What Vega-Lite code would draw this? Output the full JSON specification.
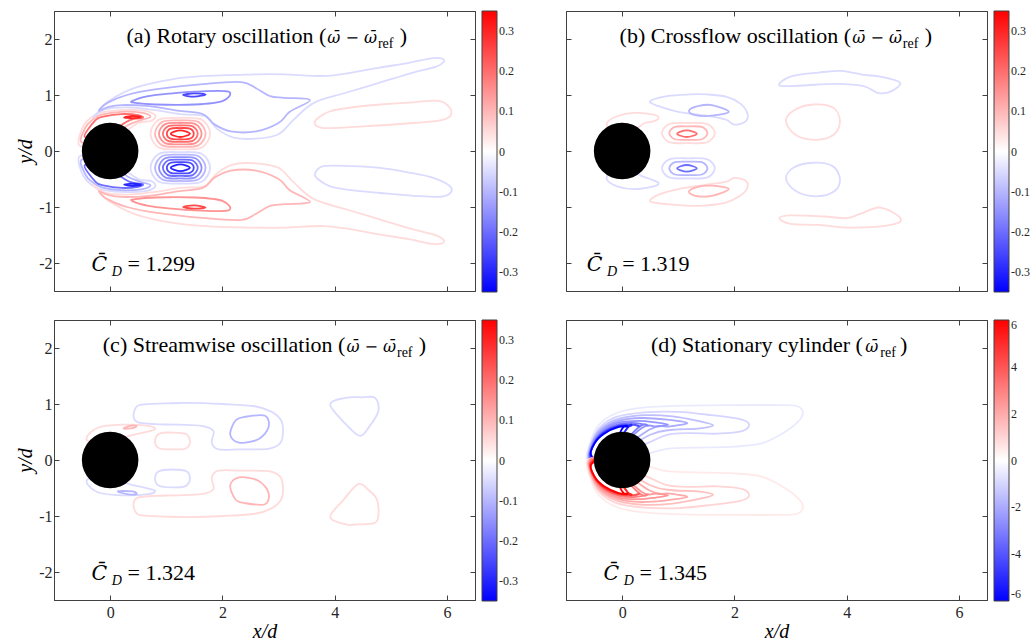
{
"$schema": "https://vega.github.io/schema/vega-lite/v6.json",
"padding": {"left": 15, "top": 10, "right": 0, "bottom": 0},
"config": {
  "font": "Liberation Serif",
  "view": {"stroke": "#404040", "strokeWidth": 1},
  "axis": {"grid": false, "domainColor": "#404040", "tickColor": "#404040", "tickSize": -5, "labelFont": "Liberation Serif", "labelFontSize": 16, "labelColor": "#262626", "labelPadding": 7, "labelOverlap": false, "labelFlush": false, "titleFont": "Liberation Serif", "titleFontSize": 20, "titleFontStyle": "italic", "titleFontWeight": "normal", "titleColor": "#000", "titlePadding": 3},
  "axisX": {"labelPadding": 9, "titlePadding": 1},
  "legend": {"gradientLength": 281, "gradientThickness": 15, "labelFont": "Liberation Serif", "labelFontSize": 12, "labelColor": "#262626", "labelOffset": 5, "gradientStrokeColor": "#404040", "gradientStrokeWidth": 1, "offset": 6, "labelOverlap": false},
  "style": {
    "tm": {"font": "Liberation Serif", "fontSize": 22, "align": "right", "baseline": "alphabetic", "fill": "#000"},
    "tl": {"font": "Liberation Serif", "fontSize": 22, "align": "left", "baseline": "alphabetic", "fill": "#000"},
    "tw": {"font": "DejaVu Serif", "fontSize": 16, "fontStyle": "italic", "align": "left", "baseline": "alphabetic", "fill": "#000"},
    "tc": {"font": "DejaVu Serif", "fontSize": 20.5, "fontStyle": "italic", "align": "left", "baseline": "alphabetic", "fill": "#000"},
    "ts": {"font": "Liberation Serif", "fontSize": 14, "align": "left", "baseline": "alphabetic", "dy": 5, "fill": "#000"},
    "td": {"font": "Liberation Serif", "fontSize": 14, "fontStyle": "italic", "align": "left", "baseline": "alphabetic", "dy": 5, "fill": "#000"}
  }
},
"datasets": {
"L": [
{"p":"a","k":"m","t":"(a) Rotary oscillation (","x":3.85,"y":1.92},
{"p":"a","k":"w","t":"\u03c9\u0304 \u2212 \u03c9\u0304","x":3.87,"y":1.92},
{"p":"a","k":"s","t":"ref","x":4.77,"y":1.92},
{"p":"a","k":"l","t":")","x":5.16,"y":1.92},
{"p":"a","k":"c","t":"C\u0304","x":-0.33,"y":-2.15},
{"p":"a","k":"d","t":"D","x":0.03,"y":-2.15},
{"p":"a","k":"l","t":"= 1.299","x":0.31,"y":-2.15},
{"p":"b","k":"m","t":"(b) Crossflow oscillation (","x":4.08,"y":1.92},
{"p":"b","k":"w","t":"\u03c9\u0304 \u2212 \u03c9\u0304","x":4.1,"y":1.92},
{"p":"b","k":"s","t":"ref","x":5.0,"y":1.92},
{"p":"b","k":"l","t":")","x":5.39,"y":1.92},
{"p":"b","k":"c","t":"C\u0304","x":-0.63,"y":-2.15},
{"p":"b","k":"d","t":"D","x":-0.27,"y":-2.15},
{"p":"b","k":"l","t":"= 1.319","x":0.0,"y":-2.15},
{"p":"c","k":"m","t":"(c) Streamwise oscillation (","x":4.19,"y":1.92},
{"p":"c","k":"w","t":"\u03c9\u0304 \u2212 \u03c9\u0304","x":4.21,"y":1.92},
{"p":"c","k":"s","t":"ref","x":5.11,"y":1.92},
{"p":"c","k":"l","t":")","x":5.5,"y":1.92},
{"p":"c","k":"c","t":"C\u0304","x":-0.33,"y":-2.15},
{"p":"c","k":"d","t":"D","x":0.03,"y":-2.15},
{"p":"c","k":"l","t":"= 1.324","x":0.31,"y":-2.15},
{"p":"d","k":"m","t":"(d) Stationary cylinder (","x":4.29,"y":1.92},
{"p":"d","k":"w","t":"\u03c9\u0304","x":4.33,"y":1.92},
{"p":"d","k":"s","t":"ref","x":4.6,"y":1.92},
{"p":"d","k":"l","t":")","x":4.95,"y":1.92},
{"p":"d","k":"c","t":"C\u0304","x":-0.33,"y":-2.15},
{"p":"d","k":"d","t":"D","x":0.03,"y":-2.15},
{"p":"d","k":"l","t":"= 1.345","x":0.31,"y":-2.15}
],
"A": [
{"c":1,"v":0.05,"i":0,"x":-0.55,"y":0.1},{"c":1,"v":0.05,"i":1,"x":-0.5,"y":0.4},{"c":1,"v":0.05,"i":2,"x":-0.36,"y":0.58},{"c":1,"v":0.05,"i":3,"x":-0.18,"y":0.68},{"c":1,"v":0.05,"i":4,"x":0.2,"y":0.73},{"c":1,"v":0.05,"i":5,"x":0.6,"y":0.72},{"c":1,"v":0.05,"i":6,"x":0.8,"y":0.64},{"c":1,"v":0.05,"i":7,"x":0.74,"y":0.54},{"c":1,"v":0.05,"i":8,"x":0.5,"y":0.5},{"c":1,"v":0.05,"i":9,"x":0.2,"y":0.3},{"c":1,"v":0.05,"i":10,"x":-0.2,"y":0.1},
{"c":2,"v":0.1,"i":0,"x":-0.5,"y":0.15},{"c":2,"v":0.1,"i":1,"x":-0.44,"y":0.42},{"c":2,"v":0.1,"i":2,"x":-0.31,"y":0.56},{"c":2,"v":0.1,"i":3,"x":-0.15,"y":0.65},{"c":2,"v":0.1,"i":4,"x":0.2,"y":0.7},{"c":2,"v":0.1,"i":5,"x":0.58,"y":0.68},{"c":2,"v":0.1,"i":6,"x":0.72,"y":0.61},{"c":2,"v":0.1,"i":7,"x":0.55,"y":0.55},{"c":2,"v":0.1,"i":8,"x":0.3,"y":0.45},{"c":2,"v":0.1,"i":9,"x":0,"y":0.2},
{"c":3,"v":0.2,"i":0,"x":-0.45,"y":0.25},{"c":3,"v":0.2,"i":1,"x":-0.26,"y":0.55},{"c":3,"v":0.2,"i":2,"x":-0.1,"y":0.62},{"c":3,"v":0.2,"i":3,"x":0.2,"y":0.66},{"c":3,"v":0.2,"i":4,"x":0.5,"y":0.64},{"c":3,"v":0.2,"i":5,"x":0.58,"y":0.59},{"c":3,"v":0.2,"i":6,"x":0.35,"y":0.55},{"c":3,"v":0.2,"i":7,"x":0,"y":0.35},
{"c":4,"v":0.3,"i":0,"x":0.25,"y":0.6},{"c":4,"v":0.3,"i":1,"x":0.4,"y":0.625},{"c":4,"v":0.3,"i":2,"x":0.55,"y":0.605},{"c":4,"v":0.3,"i":3,"x":0.4,"y":0.585},
{"c":5,"v":0.05,"i":0,"x":1.78,"y":0.31},{"c":5,"v":0.05,"i":1,"x":1.63,"y":0.56},{"c":5,"v":0.05,"i":2,"x":1.25,"y":0.59},{"c":5,"v":0.05,"i":3,"x":0.87,"y":0.56},{"c":5,"v":0.05,"i":4,"x":0.72,"y":0.31},{"c":5,"v":0.05,"i":5,"x":0.87,"y":0.06},{"c":5,"v":0.05,"i":6,"x":1.25,"y":0.03},{"c":5,"v":0.05,"i":7,"x":1.63,"y":0.06},
{"c":6,"v":0.1,"i":0,"x":1.7,"y":0.31},{"c":6,"v":0.1,"i":1,"x":1.57,"y":0.52},{"c":6,"v":0.1,"i":2,"x":1.25,"y":0.545},{"c":6,"v":0.1,"i":3,"x":0.93,"y":0.52},{"c":6,"v":0.1,"i":4,"x":0.8,"y":0.31},{"c":6,"v":0.1,"i":5,"x":0.93,"y":0.1},{"c":6,"v":0.1,"i":6,"x":1.25,"y":0.075},{"c":6,"v":0.1,"i":7,"x":1.57,"y":0.1},
{"c":7,"v":0.15,"i":0,"x":1.63,"y":0.31},{"c":7,"v":0.15,"i":1,"x":1.52,"y":0.48},{"c":7,"v":0.15,"i":2,"x":1.25,"y":0.5},{"c":7,"v":0.15,"i":3,"x":0.98,"y":0.48},{"c":7,"v":0.15,"i":4,"x":0.87,"y":0.31},{"c":7,"v":0.15,"i":5,"x":0.98,"y":0.14},{"c":7,"v":0.15,"i":6,"x":1.25,"y":0.12},{"c":7,"v":0.15,"i":7,"x":1.52,"y":0.14},
{"c":8,"v":0.2,"i":0,"x":1.56,"y":0.31},{"c":8,"v":0.2,"i":1,"x":1.47,"y":0.44},{"c":8,"v":0.2,"i":2,"x":1.25,"y":0.455},{"c":8,"v":0.2,"i":3,"x":1.03,"y":0.44},{"c":8,"v":0.2,"i":4,"x":0.94,"y":0.31},{"c":8,"v":0.2,"i":5,"x":1.03,"y":0.18},{"c":8,"v":0.2,"i":6,"x":1.25,"y":0.165},{"c":8,"v":0.2,"i":7,"x":1.47,"y":0.18},
{"c":9,"v":0.25,"i":0,"x":1.49,"y":0.31},{"c":9,"v":0.25,"i":1,"x":1.42,"y":0.4},{"c":9,"v":0.25,"i":2,"x":1.25,"y":0.41},{"c":9,"v":0.25,"i":3,"x":1.08,"y":0.4},{"c":9,"v":0.25,"i":4,"x":1.01,"y":0.31},{"c":9,"v":0.25,"i":5,"x":1.08,"y":0.22},{"c":9,"v":0.25,"i":6,"x":1.25,"y":0.21},{"c":9,"v":0.25,"i":7,"x":1.42,"y":0.22},
{"c":10,"v":0.3,"i":0,"x":1.42,"y":0.31},{"c":10,"v":0.3,"i":1,"x":1.25,"y":0.37},{"c":10,"v":0.3,"i":2,"x":1.08,"y":0.31},{"c":10,"v":0.3,"i":3,"x":1.25,"y":0.25},
{"c":11,"v":-0.05,"i":0,"x":-0.3,"y":0.6},{"c":11,"v":-0.05,"i":1,"x":-0.21,"y":0.7},{"c":11,"v":-0.05,"i":2,"x":-0.03,"y":0.89},{"c":11,"v":-0.05,"i":3,"x":0.45,"y":1.13},{"c":11,"v":-0.05,"i":4,"x":1.1,"y":1.28},{"c":11,"v":-0.05,"i":5,"x":1.7,"y":1.34},{"c":11,"v":-0.05,"i":6,"x":2.6,"y":1.37},{"c":11,"v":-0.05,"i":7,"x":3.1,"y":1.37},{"c":11,"v":-0.05,"i":8,"x":3.8,"y":1.34},{"c":11,"v":-0.05,"i":9,"x":4.3,"y":1.4},{"c":11,"v":-0.05,"i":10,"x":4.8,"y":1.49},{"c":11,"v":-0.05,"i":11,"x":5.3,"y":1.57},{"c":11,"v":-0.05,"i":12,"x":5.76,"y":1.66},{"c":11,"v":-0.05,"i":13,"x":5.95,"y":1.62},{"c":11,"v":-0.05,"i":14,"x":5.82,"y":1.51},{"c":11,"v":-0.05,"i":15,"x":5.4,"y":1.4},{"c":11,"v":-0.05,"i":16,"x":4.8,"y":1.22},{"c":11,"v":-0.05,"i":17,"x":4.2,"y":1.04},{"c":11,"v":-0.05,"i":18,"x":3.63,"y":0.86},{"c":11,"v":-0.05,"i":19,"x":3.27,"y":0.56},{"c":11,"v":-0.05,"i":20,"x":3.0,"y":0.3},{"c":11,"v":-0.05,"i":21,"x":2.6,"y":0.22},{"c":11,"v":-0.05,"i":22,"x":2.2,"y":0.24},{"c":11,"v":-0.05,"i":23,"x":1.9,"y":0.4},{"c":11,"v":-0.05,"i":24,"x":1.7,"y":0.62},{"c":11,"v":-0.05,"i":25,"x":1.25,"y":0.66},{"c":11,"v":-0.05,"i":26,"x":0.8,"y":0.73},{"c":11,"v":-0.05,"i":27,"x":0.3,"y":0.78},{"c":11,"v":-0.05,"i":28,"x":-0.1,"y":0.74},
{"c":12,"v":-0.1,"i":0,"x":-0.2,"y":0.72},{"c":12,"v":-0.1,"i":1,"x":-0.05,"y":0.86},{"c":12,"v":-0.1,"i":2,"x":0.3,"y":1.0},{"c":12,"v":-0.1,"i":3,"x":0.8,"y":1.1},{"c":12,"v":-0.1,"i":4,"x":1.7,"y":1.2},{"c":12,"v":-0.1,"i":5,"x":2.34,"y":1.23},{"c":12,"v":-0.1,"i":6,"x":2.6,"y":1.12},{"c":12,"v":-0.1,"i":7,"x":2.85,"y":0.98},{"c":12,"v":-0.1,"i":8,"x":3.1,"y":0.95},{"c":12,"v":-0.1,"i":9,"x":3.56,"y":0.91},{"c":12,"v":-0.1,"i":10,"x":3.2,"y":0.7},{"c":12,"v":-0.1,"i":11,"x":3.0,"y":0.5},{"c":12,"v":-0.1,"i":12,"x":2.6,"y":0.35},{"c":12,"v":-0.1,"i":13,"x":2.15,"y":0.35},{"c":12,"v":-0.1,"i":14,"x":1.85,"y":0.48},{"c":12,"v":-0.1,"i":15,"x":1.65,"y":0.66},{"c":12,"v":-0.1,"i":16,"x":1.2,"y":0.72},{"c":12,"v":-0.1,"i":17,"x":0.7,"y":0.8},{"c":12,"v":-0.1,"i":18,"x":0.2,"y":0.82},{"c":12,"v":-0.1,"i":19,"x":-0.05,"y":0.78},
{"c":13,"v":-0.15,"i":0,"x":0.39,"y":0.89},{"c":13,"v":-0.15,"i":1,"x":0.68,"y":0.98},{"c":13,"v":-0.15,"i":2,"x":1.1,"y":1.03},{"c":13,"v":-0.15,"i":3,"x":1.51,"y":1.06},{"c":13,"v":-0.15,"i":4,"x":2.11,"y":1.06},{"c":13,"v":-0.15,"i":5,"x":2.0,"y":0.89},{"c":13,"v":-0.15,"i":6,"x":1.51,"y":0.83},{"c":13,"v":-0.15,"i":7,"x":0.8,"y":0.83},{"c":13,"v":-0.15,"i":8,"x":0.45,"y":0.86},
{"c":14,"v":-0.25,"i":0,"x":1.3,"y":1.0},{"c":14,"v":-0.25,"i":1,"x":1.5,"y":1.03},{"c":14,"v":-0.25,"i":2,"x":1.7,"y":1.01},{"c":14,"v":-0.25,"i":3,"x":1.5,"y":0.97},
{"c":15,"v":0.05,"i":0,"x":3.65,"y":0.53},{"c":15,"v":0.05,"i":1,"x":3.92,"y":0.71},{"c":15,"v":0.05,"i":2,"x":4.4,"y":0.79},{"c":15,"v":0.05,"i":3,"x":4.81,"y":0.83},{"c":15,"v":0.05,"i":4,"x":5.4,"y":0.87},{"c":15,"v":0.05,"i":5,"x":5.88,"y":0.89},{"c":15,"v":0.05,"i":6,"x":6.08,"y":0.71},{"c":15,"v":0.05,"i":7,"x":5.94,"y":0.56},{"c":15,"v":0.05,"i":8,"x":5.4,"y":0.5},{"c":15,"v":0.05,"i":9,"x":4.5,"y":0.44},{"c":15,"v":0.05,"i":10,"x":3.8,"y":0.41},
{"c":21,"v":-0.05,"i":0,"x":-0.55,"y":-0.1},{"c":21,"v":-0.05,"i":1,"x":-0.5,"y":-0.4},{"c":21,"v":-0.05,"i":2,"x":-0.36,"y":-0.58},{"c":21,"v":-0.05,"i":3,"x":-0.18,"y":-0.68},{"c":21,"v":-0.05,"i":4,"x":0.2,"y":-0.73},{"c":21,"v":-0.05,"i":5,"x":0.6,"y":-0.72},{"c":21,"v":-0.05,"i":6,"x":0.8,"y":-0.64},{"c":21,"v":-0.05,"i":7,"x":0.74,"y":-0.54},{"c":21,"v":-0.05,"i":8,"x":0.5,"y":-0.5},{"c":21,"v":-0.05,"i":9,"x":0.2,"y":-0.3},{"c":21,"v":-0.05,"i":10,"x":-0.2,"y":-0.1},
{"c":22,"v":-0.1,"i":0,"x":-0.5,"y":-0.15},{"c":22,"v":-0.1,"i":1,"x":-0.44,"y":-0.42},{"c":22,"v":-0.1,"i":2,"x":-0.31,"y":-0.56},{"c":22,"v":-0.1,"i":3,"x":-0.15,"y":-0.65},{"c":22,"v":-0.1,"i":4,"x":0.2,"y":-0.7},{"c":22,"v":-0.1,"i":5,"x":0.58,"y":-0.68},{"c":22,"v":-0.1,"i":6,"x":0.72,"y":-0.61},{"c":22,"v":-0.1,"i":7,"x":0.55,"y":-0.55},{"c":22,"v":-0.1,"i":8,"x":0.3,"y":-0.45},{"c":22,"v":-0.1,"i":9,"x":0,"y":-0.2},
{"c":23,"v":-0.2,"i":0,"x":-0.45,"y":-0.25},{"c":23,"v":-0.2,"i":1,"x":-0.26,"y":-0.55},{"c":23,"v":-0.2,"i":2,"x":-0.1,"y":-0.62},{"c":23,"v":-0.2,"i":3,"x":0.2,"y":-0.66},{"c":23,"v":-0.2,"i":4,"x":0.5,"y":-0.64},{"c":23,"v":-0.2,"i":5,"x":0.58,"y":-0.59},{"c":23,"v":-0.2,"i":6,"x":0.35,"y":-0.55},{"c":23,"v":-0.2,"i":7,"x":0,"y":-0.35},
{"c":24,"v":-0.3,"i":0,"x":0.25,"y":-0.6},{"c":24,"v":-0.3,"i":1,"x":0.4,"y":-0.625},{"c":24,"v":-0.3,"i":2,"x":0.55,"y":-0.605},{"c":24,"v":-0.3,"i":3,"x":0.4,"y":-0.585},
{"c":25,"v":-0.05,"i":0,"x":1.78,"y":-0.3},{"c":25,"v":-0.05,"i":1,"x":1.63,"y":-0.55},{"c":25,"v":-0.05,"i":2,"x":1.25,"y":-0.58},{"c":25,"v":-0.05,"i":3,"x":0.87,"y":-0.55},{"c":25,"v":-0.05,"i":4,"x":0.72,"y":-0.3},{"c":25,"v":-0.05,"i":5,"x":0.87,"y":-0.05},{"c":25,"v":-0.05,"i":6,"x":1.25,"y":-0.02},{"c":25,"v":-0.05,"i":7,"x":1.63,"y":-0.05},
{"c":26,"v":-0.1,"i":0,"x":1.7,"y":-0.3},{"c":26,"v":-0.1,"i":1,"x":1.57,"y":-0.51},{"c":26,"v":-0.1,"i":2,"x":1.25,"y":-0.535},{"c":26,"v":-0.1,"i":3,"x":0.93,"y":-0.51},{"c":26,"v":-0.1,"i":4,"x":0.8,"y":-0.3},{"c":26,"v":-0.1,"i":5,"x":0.93,"y":-0.09},{"c":26,"v":-0.1,"i":6,"x":1.25,"y":-0.065},{"c":26,"v":-0.1,"i":7,"x":1.57,"y":-0.09},
{"c":27,"v":-0.15,"i":0,"x":1.63,"y":-0.3},{"c":27,"v":-0.15,"i":1,"x":1.52,"y":-0.47},{"c":27,"v":-0.15,"i":2,"x":1.25,"y":-0.49},{"c":27,"v":-0.15,"i":3,"x":0.98,"y":-0.47},{"c":27,"v":-0.15,"i":4,"x":0.87,"y":-0.3},{"c":27,"v":-0.15,"i":5,"x":0.98,"y":-0.13},{"c":27,"v":-0.15,"i":6,"x":1.25,"y":-0.11},{"c":27,"v":-0.15,"i":7,"x":1.52,"y":-0.13},
{"c":28,"v":-0.2,"i":0,"x":1.56,"y":-0.3},{"c":28,"v":-0.2,"i":1,"x":1.47,"y":-0.43},{"c":28,"v":-0.2,"i":2,"x":1.25,"y":-0.445},{"c":28,"v":-0.2,"i":3,"x":1.03,"y":-0.43},{"c":28,"v":-0.2,"i":4,"x":0.94,"y":-0.3},{"c":28,"v":-0.2,"i":5,"x":1.03,"y":-0.17},{"c":28,"v":-0.2,"i":6,"x":1.25,"y":-0.155},{"c":28,"v":-0.2,"i":7,"x":1.47,"y":-0.17},
{"c":29,"v":-0.25,"i":0,"x":1.49,"y":-0.3},{"c":29,"v":-0.25,"i":1,"x":1.42,"y":-0.39},{"c":29,"v":-0.25,"i":2,"x":1.25,"y":-0.4},{"c":29,"v":-0.25,"i":3,"x":1.08,"y":-0.39},{"c":29,"v":-0.25,"i":4,"x":1.01,"y":-0.3},{"c":29,"v":-0.25,"i":5,"x":1.08,"y":-0.21},{"c":29,"v":-0.25,"i":6,"x":1.25,"y":-0.2},{"c":29,"v":-0.25,"i":7,"x":1.42,"y":-0.21},
{"c":30,"v":-0.3,"i":0,"x":1.42,"y":-0.3},{"c":30,"v":-0.3,"i":1,"x":1.25,"y":-0.36},{"c":30,"v":-0.3,"i":2,"x":1.08,"y":-0.3},{"c":30,"v":-0.3,"i":3,"x":1.25,"y":-0.24},
{"c":31,"v":0.05,"i":0,"x":-0.3,"y":-0.6},{"c":31,"v":0.05,"i":1,"x":-0.21,"y":-0.7},{"c":31,"v":0.05,"i":2,"x":-0.03,"y":-0.89},{"c":31,"v":0.05,"i":3,"x":0.45,"y":-1.13},{"c":31,"v":0.05,"i":4,"x":1.1,"y":-1.28},{"c":31,"v":0.05,"i":5,"x":1.7,"y":-1.34},{"c":31,"v":0.05,"i":6,"x":2.6,"y":-1.37},{"c":31,"v":0.05,"i":7,"x":3.1,"y":-1.37},{"c":31,"v":0.05,"i":8,"x":3.8,"y":-1.34},{"c":31,"v":0.05,"i":9,"x":4.3,"y":-1.4},{"c":31,"v":0.05,"i":10,"x":4.8,"y":-1.49},{"c":31,"v":0.05,"i":11,"x":5.3,"y":-1.57},{"c":31,"v":0.05,"i":12,"x":5.76,"y":-1.66},{"c":31,"v":0.05,"i":13,"x":5.95,"y":-1.62},{"c":31,"v":0.05,"i":14,"x":5.82,"y":-1.51},{"c":31,"v":0.05,"i":15,"x":5.4,"y":-1.4},{"c":31,"v":0.05,"i":16,"x":4.8,"y":-1.22},{"c":31,"v":0.05,"i":17,"x":4.2,"y":-1.04},{"c":31,"v":0.05,"i":18,"x":3.63,"y":-0.86},{"c":31,"v":0.05,"i":19,"x":3.27,"y":-0.56},{"c":31,"v":0.05,"i":20,"x":3.0,"y":-0.3},{"c":31,"v":0.05,"i":21,"x":2.6,"y":-0.22},{"c":31,"v":0.05,"i":22,"x":2.2,"y":-0.24},{"c":31,"v":0.05,"i":23,"x":1.9,"y":-0.4},{"c":31,"v":0.05,"i":24,"x":1.7,"y":-0.62},{"c":31,"v":0.05,"i":25,"x":1.25,"y":-0.66},{"c":31,"v":0.05,"i":26,"x":0.8,"y":-0.73},{"c":31,"v":0.05,"i":27,"x":0.3,"y":-0.78},{"c":31,"v":0.05,"i":28,"x":-0.1,"y":-0.74},
{"c":32,"v":0.1,"i":0,"x":-0.2,"y":-0.72},{"c":32,"v":0.1,"i":1,"x":-0.05,"y":-0.86},{"c":32,"v":0.1,"i":2,"x":0.3,"y":-1.0},{"c":32,"v":0.1,"i":3,"x":0.8,"y":-1.1},{"c":32,"v":0.1,"i":4,"x":1.7,"y":-1.2},{"c":32,"v":0.1,"i":5,"x":2.34,"y":-1.23},{"c":32,"v":0.1,"i":6,"x":2.6,"y":-1.12},{"c":32,"v":0.1,"i":7,"x":2.85,"y":-0.98},{"c":32,"v":0.1,"i":8,"x":3.1,"y":-0.95},{"c":32,"v":0.1,"i":9,"x":3.56,"y":-0.91},{"c":32,"v":0.1,"i":10,"x":3.2,"y":-0.7},{"c":32,"v":0.1,"i":11,"x":3.0,"y":-0.5},{"c":32,"v":0.1,"i":12,"x":2.6,"y":-0.35},{"c":32,"v":0.1,"i":13,"x":2.15,"y":-0.35},{"c":32,"v":0.1,"i":14,"x":1.85,"y":-0.48},{"c":32,"v":0.1,"i":15,"x":1.65,"y":-0.66},{"c":32,"v":0.1,"i":16,"x":1.2,"y":-0.72},{"c":32,"v":0.1,"i":17,"x":0.7,"y":-0.8},{"c":32,"v":0.1,"i":18,"x":0.2,"y":-0.82},{"c":32,"v":0.1,"i":19,"x":-0.05,"y":-0.78},
{"c":33,"v":0.15,"i":0,"x":0.39,"y":-0.89},{"c":33,"v":0.15,"i":1,"x":0.68,"y":-0.98},{"c":33,"v":0.15,"i":2,"x":1.1,"y":-1.03},{"c":33,"v":0.15,"i":3,"x":1.51,"y":-1.06},{"c":33,"v":0.15,"i":4,"x":2.11,"y":-1.06},{"c":33,"v":0.15,"i":5,"x":2.0,"y":-0.89},{"c":33,"v":0.15,"i":6,"x":1.51,"y":-0.83},{"c":33,"v":0.15,"i":7,"x":0.8,"y":-0.83},{"c":33,"v":0.15,"i":8,"x":0.45,"y":-0.86},
{"c":34,"v":0.25,"i":0,"x":1.3,"y":-1.0},{"c":34,"v":0.25,"i":1,"x":1.5,"y":-1.03},{"c":34,"v":0.25,"i":2,"x":1.7,"y":-1.01},{"c":34,"v":0.25,"i":3,"x":1.5,"y":-0.97},
{"c":35,"v":-0.05,"i":0,"x":3.65,"y":-0.4},{"c":35,"v":-0.05,"i":1,"x":3.8,"y":-0.27},{"c":35,"v":-0.05,"i":2,"x":4.3,"y":-0.27},{"c":35,"v":-0.05,"i":3,"x":4.81,"y":-0.3},{"c":35,"v":-0.05,"i":4,"x":5.3,"y":-0.38},{"c":35,"v":-0.05,"i":5,"x":5.76,"y":-0.48},{"c":35,"v":-0.05,"i":6,"x":6.08,"y":-0.66},{"c":35,"v":-0.05,"i":7,"x":5.94,"y":-0.81},{"c":35,"v":-0.05,"i":8,"x":5.4,"y":-0.8},{"c":35,"v":-0.05,"i":9,"x":4.81,"y":-0.75},{"c":35,"v":-0.05,"i":10,"x":4.3,"y":-0.7},{"c":35,"v":-0.05,"i":11,"x":3.92,"y":-0.63},{"c":35,"v":-0.05,"i":12,"x":3.7,"y":-0.5}
],
"B": [
{"c":1,"v":0.05,"i":0,"x":-0.2,"y":0.4},{"c":1,"v":0.05,"i":1,"x":-0.27,"y":0.5},{"c":1,"v":0.05,"i":2,"x":-0.09,"y":0.62},{"c":1,"v":0.05,"i":3,"x":0.21,"y":0.68},{"c":1,"v":0.05,"i":4,"x":0.56,"y":0.65},{"c":1,"v":0.05,"i":5,"x":0.65,"y":0.59},{"c":1,"v":0.05,"i":6,"x":0.56,"y":0.53},{"c":1,"v":0.05,"i":7,"x":0.4,"y":0.5},{"c":1,"v":0.05,"i":8,"x":0.15,"y":0.35},
{"c":2,"v":-0.05,"i":0,"x":-0.2,"y":-0.4},{"c":2,"v":-0.05,"i":1,"x":-0.27,"y":-0.51},{"c":2,"v":-0.05,"i":2,"x":-0.09,"y":-0.63},{"c":2,"v":-0.05,"i":3,"x":0.21,"y":-0.68},{"c":2,"v":-0.05,"i":4,"x":0.56,"y":-0.63},{"c":2,"v":-0.05,"i":5,"x":0.65,"y":-0.57},{"c":2,"v":-0.05,"i":6,"x":0.5,"y":-0.5},{"c":2,"v":-0.05,"i":7,"x":0.35,"y":-0.45},{"c":2,"v":-0.05,"i":8,"x":0.15,"y":-0.35},
{"c":3,"v":0.05,"i":0,"x":1.65,"y":0.32},{"c":3,"v":0.05,"i":1,"x":1.52,"y":0.48},{"c":3,"v":0.05,"i":2,"x":1.18,"y":0.5},{"c":3,"v":0.05,"i":3,"x":0.84,"y":0.48},{"c":3,"v":0.05,"i":4,"x":0.71,"y":0.32},{"c":3,"v":0.05,"i":5,"x":0.84,"y":0.16},{"c":3,"v":0.05,"i":6,"x":1.18,"y":0.14},{"c":3,"v":0.05,"i":7,"x":1.52,"y":0.16},
{"c":4,"v":0.1,"i":0,"x":1.52,"y":0.32},{"c":4,"v":0.1,"i":1,"x":1.42,"y":0.43},{"c":4,"v":0.1,"i":2,"x":1.18,"y":0.44},{"c":4,"v":0.1,"i":3,"x":0.94,"y":0.43},{"c":4,"v":0.1,"i":4,"x":0.84,"y":0.32},{"c":4,"v":0.1,"i":5,"x":0.94,"y":0.21},{"c":4,"v":0.1,"i":6,"x":1.18,"y":0.2},{"c":4,"v":0.1,"i":7,"x":1.42,"y":0.21},
{"c":5,"v":0.2,"i":0,"x":1.33,"y":0.31},{"c":5,"v":0.2,"i":1,"x":1.15,"y":0.37},{"c":5,"v":0.2,"i":2,"x":0.98,"y":0.31},{"c":5,"v":0.2,"i":3,"x":1.15,"y":0.25},
{"c":6,"v":-0.05,"i":0,"x":1.65,"y":-0.31},{"c":6,"v":-0.05,"i":1,"x":1.52,"y":-0.47},{"c":6,"v":-0.05,"i":2,"x":1.18,"y":-0.49},{"c":6,"v":-0.05,"i":3,"x":0.84,"y":-0.47},{"c":6,"v":-0.05,"i":4,"x":0.71,"y":-0.31},{"c":6,"v":-0.05,"i":5,"x":0.84,"y":-0.15},{"c":6,"v":-0.05,"i":6,"x":1.18,"y":-0.13},{"c":6,"v":-0.05,"i":7,"x":1.52,"y":-0.15},
{"c":7,"v":-0.1,"i":0,"x":1.52,"y":-0.31},{"c":7,"v":-0.1,"i":1,"x":1.42,"y":-0.42},{"c":7,"v":-0.1,"i":2,"x":1.18,"y":-0.43},{"c":7,"v":-0.1,"i":3,"x":0.94,"y":-0.42},{"c":7,"v":-0.1,"i":4,"x":0.84,"y":-0.31},{"c":7,"v":-0.1,"i":5,"x":0.94,"y":-0.2},{"c":7,"v":-0.1,"i":6,"x":1.18,"y":-0.19},{"c":7,"v":-0.1,"i":7,"x":1.42,"y":-0.2},
{"c":8,"v":-0.2,"i":0,"x":1.33,"y":-0.31},{"c":8,"v":-0.2,"i":1,"x":1.15,"y":-0.37},{"c":8,"v":-0.2,"i":2,"x":0.98,"y":-0.31},{"c":8,"v":-0.2,"i":3,"x":1.15,"y":-0.25},
{"c":9,"v":-0.05,"i":0,"x":0.5,"y":0.89},{"c":9,"v":-0.05,"i":1,"x":0.8,"y":0.98},{"c":9,"v":-0.05,"i":2,"x":1.2,"y":1.01},{"c":9,"v":-0.05,"i":3,"x":1.51,"y":1.01},{"c":9,"v":-0.05,"i":4,"x":1.85,"y":0.97},{"c":9,"v":-0.05,"i":5,"x":2.1,"y":0.85},{"c":9,"v":-0.05,"i":6,"x":2.23,"y":0.68},{"c":9,"v":-0.05,"i":7,"x":2.2,"y":0.53},{"c":9,"v":-0.05,"i":8,"x":2.0,"y":0.47},{"c":9,"v":-0.05,"i":9,"x":1.85,"y":0.56},{"c":9,"v":-0.05,"i":10,"x":1.5,"y":0.63},{"c":9,"v":-0.05,"i":11,"x":1.0,"y":0.7},{"c":9,"v":-0.05,"i":12,"x":0.65,"y":0.8},
{"c":10,"v":-0.1,"i":0,"x":1.19,"y":0.72},{"c":10,"v":-0.1,"i":1,"x":1.35,"y":0.8},{"c":10,"v":-0.1,"i":2,"x":1.6,"y":0.82},{"c":10,"v":-0.1,"i":3,"x":1.9,"y":0.7},{"c":10,"v":-0.1,"i":4,"x":1.6,"y":0.63},{"c":10,"v":-0.1,"i":5,"x":1.3,"y":0.64},
{"c":11,"v":0.05,"i":0,"x":0.5,"y":-0.9},{"c":11,"v":0.05,"i":1,"x":0.8,"y":-0.95},{"c":11,"v":0.05,"i":2,"x":1.2,"y":-0.98},{"c":11,"v":0.05,"i":3,"x":1.51,"y":-0.97},{"c":11,"v":0.05,"i":4,"x":1.85,"y":-0.92},{"c":11,"v":0.05,"i":5,"x":2.1,"y":-0.8},{"c":11,"v":0.05,"i":6,"x":2.23,"y":-0.66},{"c":11,"v":0.05,"i":7,"x":2.2,"y":-0.53},{"c":11,"v":0.05,"i":8,"x":2.0,"y":-0.48},{"c":11,"v":0.05,"i":9,"x":1.85,"y":-0.55},{"c":11,"v":0.05,"i":10,"x":1.5,"y":-0.6},{"c":11,"v":0.05,"i":11,"x":1.0,"y":-0.68},{"c":11,"v":0.05,"i":12,"x":0.65,"y":-0.78},
{"c":12,"v":0.1,"i":0,"x":1.19,"y":-0.72},{"c":12,"v":0.1,"i":1,"x":1.35,"y":-0.64},{"c":12,"v":0.1,"i":2,"x":1.6,"y":-0.62},{"c":12,"v":0.1,"i":3,"x":1.9,"y":-0.68},{"c":12,"v":0.1,"i":4,"x":1.6,"y":-0.8},{"c":12,"v":0.1,"i":5,"x":1.3,"y":-0.8},
{"c":13,"v":-0.05,"i":0,"x":2.8,"y":1.17},{"c":13,"v":-0.05,"i":1,"x":3.0,"y":1.33},{"c":13,"v":-0.05,"i":2,"x":3.5,"y":1.4},{"c":13,"v":-0.05,"i":3,"x":3.9,"y":1.43},{"c":13,"v":-0.05,"i":4,"x":4.3,"y":1.36},{"c":13,"v":-0.05,"i":5,"x":4.6,"y":1.33},{"c":13,"v":-0.05,"i":6,"x":4.95,"y":1.22},{"c":13,"v":-0.05,"i":7,"x":4.78,"y":1.06},{"c":13,"v":-0.05,"i":8,"x":4.55,"y":1.04},{"c":13,"v":-0.05,"i":9,"x":4.3,"y":1.16},{"c":13,"v":-0.05,"i":10,"x":3.8,"y":1.2},{"c":13,"v":-0.05,"i":11,"x":3.2,"y":1.17},
{"c":14,"v":0.05,"i":0,"x":2.92,"y":0.52},{"c":14,"v":0.05,"i":1,"x":3.05,"y":0.72},{"c":14,"v":0.05,"i":2,"x":3.4,"y":0.83},{"c":14,"v":0.05,"i":3,"x":3.75,"y":0.78},{"c":14,"v":0.05,"i":4,"x":3.88,"y":0.55},{"c":14,"v":0.05,"i":5,"x":3.78,"y":0.3},{"c":14,"v":0.05,"i":6,"x":3.45,"y":0.2},{"c":14,"v":0.05,"i":7,"x":3.1,"y":0.28},
{"c":15,"v":-0.05,"i":0,"x":2.92,"y":-0.5},{"c":15,"v":-0.05,"i":1,"x":3.05,"y":-0.3},{"c":15,"v":-0.05,"i":2,"x":3.4,"y":-0.21},{"c":15,"v":-0.05,"i":3,"x":3.75,"y":-0.27},{"c":15,"v":-0.05,"i":4,"x":3.88,"y":-0.5},{"c":15,"v":-0.05,"i":5,"x":3.78,"y":-0.72},{"c":15,"v":-0.05,"i":6,"x":3.45,"y":-0.81},{"c":15,"v":-0.05,"i":7,"x":3.1,"y":-0.72},
{"c":16,"v":0.05,"i":0,"x":2.8,"y":-1.2},{"c":16,"v":0.05,"i":1,"x":3.0,"y":-1.15},{"c":16,"v":0.05,"i":2,"x":3.6,"y":-1.17},{"c":16,"v":0.05,"i":3,"x":4.0,"y":-1.2},{"c":16,"v":0.05,"i":4,"x":4.25,"y":-1.12},{"c":16,"v":0.05,"i":5,"x":4.6,"y":-1.01},{"c":16,"v":0.05,"i":6,"x":4.95,"y":-1.19},{"c":16,"v":0.05,"i":7,"x":4.83,"y":-1.31},{"c":16,"v":0.05,"i":8,"x":4.1,"y":-1.37},{"c":16,"v":0.05,"i":9,"x":3.5,"y":-1.32},{"c":16,"v":0.05,"i":10,"x":3.0,"y":-1.3}
],
"C": [
{"c":1,"v":0.05,"i":0,"x":-0.3,"y":0.3},{"c":1,"v":0.05,"i":1,"x":-0.42,"y":0.4},{"c":1,"v":0.05,"i":2,"x":-0.21,"y":0.58},{"c":1,"v":0.05,"i":3,"x":0.21,"y":0.63},{"c":1,"v":0.05,"i":4,"x":0.68,"y":0.61},{"c":1,"v":0.05,"i":5,"x":0.8,"y":0.55},{"c":1,"v":0.05,"i":6,"x":0.6,"y":0.49},{"c":1,"v":0.05,"i":7,"x":0.3,"y":0.42},{"c":1,"v":0.05,"i":8,"x":0.1,"y":0.3},
{"c":2,"v":0.1,"i":0,"x":0.24,"y":0.56},{"c":2,"v":0.1,"i":1,"x":0.35,"y":0.61},{"c":2,"v":0.1,"i":2,"x":0.47,"y":0.61},{"c":2,"v":0.1,"i":3,"x":0.4,"y":0.57},
{"c":3,"v":-0.05,"i":0,"x":-0.3,"y":-0.3},{"c":3,"v":-0.05,"i":1,"x":-0.42,"y":-0.4},{"c":3,"v":-0.05,"i":2,"x":-0.21,"y":-0.58},{"c":3,"v":-0.05,"i":3,"x":0.21,"y":-0.63},{"c":3,"v":-0.05,"i":4,"x":0.68,"y":-0.61},{"c":3,"v":-0.05,"i":5,"x":0.8,"y":-0.55},{"c":3,"v":-0.05,"i":6,"x":0.6,"y":-0.49},{"c":3,"v":-0.05,"i":7,"x":0.3,"y":-0.42},{"c":3,"v":-0.05,"i":8,"x":0.1,"y":-0.3},
{"c":4,"v":-0.1,"i":0,"x":0.14,"y":-0.56},{"c":4,"v":-0.1,"i":1,"x":0.3,"y":-0.61},{"c":4,"v":-0.1,"i":2,"x":0.47,"y":-0.61},{"c":4,"v":-0.1,"i":3,"x":0.4,"y":-0.56},
{"c":5,"v":0.05,"i":0,"x":0.8,"y":0.34},{"c":5,"v":0.05,"i":1,"x":0.88,"y":0.47},{"c":5,"v":0.05,"i":2,"x":1.11,"y":0.49},{"c":5,"v":0.05,"i":3,"x":1.36,"y":0.46},{"c":5,"v":0.05,"i":4,"x":1.42,"y":0.3},{"c":5,"v":0.05,"i":5,"x":1.33,"y":0.2},{"c":5,"v":0.05,"i":6,"x":1.11,"y":0.19},{"c":5,"v":0.05,"i":7,"x":0.87,"y":0.21},
{"c":6,"v":-0.05,"i":0,"x":0.8,"y":-0.33},{"c":6,"v":-0.05,"i":1,"x":0.87,"y":-0.2},{"c":6,"v":-0.05,"i":2,"x":1.11,"y":-0.17},{"c":6,"v":-0.05,"i":3,"x":1.36,"y":-0.2},{"c":6,"v":-0.05,"i":4,"x":1.42,"y":-0.35},{"c":6,"v":-0.05,"i":5,"x":1.33,"y":-0.47},{"c":6,"v":-0.05,"i":6,"x":1.11,"y":-0.49},{"c":6,"v":-0.05,"i":7,"x":0.87,"y":-0.46},
{"c":7,"v":-0.05,"i":0,"x":0.42,"y":0.76},{"c":7,"v":-0.05,"i":1,"x":0.45,"y":0.92},{"c":7,"v":-0.05,"i":2,"x":0.56,"y":0.99},{"c":7,"v":-0.05,"i":3,"x":1.0,"y":1.01},{"c":7,"v":-0.05,"i":4,"x":1.4,"y":1.02},{"c":7,"v":-0.05,"i":5,"x":2.0,"y":1.0},{"c":7,"v":-0.05,"i":6,"x":2.58,"y":0.96},{"c":7,"v":-0.05,"i":7,"x":2.88,"y":0.86},{"c":7,"v":-0.05,"i":8,"x":3.05,"y":0.7},{"c":7,"v":-0.05,"i":9,"x":3.08,"y":0.5},{"c":7,"v":-0.05,"i":10,"x":3.03,"y":0.3},{"c":7,"v":-0.05,"i":11,"x":2.82,"y":0.2},{"c":7,"v":-0.05,"i":12,"x":2.3,"y":0.19},{"c":7,"v":-0.05,"i":13,"x":1.93,"y":0.19},{"c":7,"v":-0.05,"i":14,"x":1.81,"y":0.31},{"c":7,"v":-0.05,"i":15,"x":1.84,"y":0.52},{"c":7,"v":-0.05,"i":16,"x":1.63,"y":0.61},{"c":7,"v":-0.05,"i":17,"x":1.2,"y":0.63},{"c":7,"v":-0.05,"i":18,"x":0.8,"y":0.64},{"c":7,"v":-0.05,"i":19,"x":0.5,"y":0.67},
{"c":8,"v":-0.1,"i":0,"x":2.14,"y":0.45},{"c":8,"v":-0.1,"i":1,"x":2.23,"y":0.7},{"c":8,"v":-0.1,"i":2,"x":2.4,"y":0.77},{"c":8,"v":-0.1,"i":3,"x":2.76,"y":0.79},{"c":8,"v":-0.1,"i":4,"x":2.82,"y":0.58},{"c":8,"v":-0.1,"i":5,"x":2.64,"y":0.37},{"c":8,"v":-0.1,"i":6,"x":2.3,"y":0.31},
{"c":9,"v":0.05,"i":0,"x":0.42,"y":-0.76},{"c":9,"v":0.05,"i":1,"x":0.45,"y":-0.92},{"c":9,"v":0.05,"i":2,"x":0.56,"y":-0.99},{"c":9,"v":0.05,"i":3,"x":1.0,"y":-1.01},{"c":9,"v":0.05,"i":4,"x":1.4,"y":-1.02},{"c":9,"v":0.05,"i":5,"x":2.0,"y":-1.0},{"c":9,"v":0.05,"i":6,"x":2.58,"y":-0.96},{"c":9,"v":0.05,"i":7,"x":2.88,"y":-0.86},{"c":9,"v":0.05,"i":8,"x":3.05,"y":-0.7},{"c":9,"v":0.05,"i":9,"x":3.08,"y":-0.5},{"c":9,"v":0.05,"i":10,"x":3.03,"y":-0.3},{"c":9,"v":0.05,"i":11,"x":2.82,"y":-0.2},{"c":9,"v":0.05,"i":12,"x":2.3,"y":-0.19},{"c":9,"v":0.05,"i":13,"x":1.93,"y":-0.19},{"c":9,"v":0.05,"i":14,"x":1.81,"y":-0.31},{"c":9,"v":0.05,"i":15,"x":1.84,"y":-0.52},{"c":9,"v":0.05,"i":16,"x":1.63,"y":-0.61},{"c":9,"v":0.05,"i":17,"x":1.2,"y":-0.63},{"c":9,"v":0.05,"i":18,"x":0.8,"y":-0.64},{"c":9,"v":0.05,"i":19,"x":0.5,"y":-0.67},
{"c":10,"v":0.1,"i":0,"x":2.14,"y":-0.45},{"c":10,"v":0.1,"i":1,"x":2.23,"y":-0.7},{"c":10,"v":0.1,"i":2,"x":2.4,"y":-0.77},{"c":10,"v":0.1,"i":3,"x":2.76,"y":-0.79},{"c":10,"v":0.1,"i":4,"x":2.82,"y":-0.58},{"c":10,"v":0.1,"i":5,"x":2.64,"y":-0.37},{"c":10,"v":0.1,"i":6,"x":2.3,"y":-0.31},
{"c":11,"v":-0.05,"i":0,"x":3.92,"y":0.99},{"c":11,"v":-0.05,"i":1,"x":4.2,"y":1.11},{"c":11,"v":-0.05,"i":2,"x":4.5,"y":1.12},{"c":11,"v":-0.05,"i":3,"x":4.72,"y":1.11},{"c":11,"v":-0.05,"i":4,"x":4.78,"y":0.88},{"c":11,"v":-0.05,"i":5,"x":4.62,"y":0.6},{"c":11,"v":-0.05,"i":6,"x":4.45,"y":0.43},{"c":11,"v":-0.05,"i":7,"x":4.2,"y":0.64},
{"c":12,"v":0.05,"i":0,"x":4.42,"y":-0.43},{"c":12,"v":0.05,"i":1,"x":4.62,"y":-0.55},{"c":12,"v":0.05,"i":2,"x":4.75,"y":-0.7},{"c":12,"v":0.05,"i":3,"x":4.78,"y":-0.95},{"c":12,"v":0.05,"i":4,"x":4.72,"y":-1.12},{"c":12,"v":0.05,"i":5,"x":4.4,"y":-1.15},{"c":12,"v":0.05,"i":6,"x":4.2,"y":-1.15},{"c":12,"v":0.05,"i":7,"x":3.92,"y":-1.02},{"c":12,"v":0.05,"i":8,"x":4.15,"y":-0.72}
],
"D": [
{"c":1,"v":-0.5,"i":0,"x":-0.62,"y":0},{"c":1,"v":-0.5,"i":1,"x":-0.58,"y":0.28},{"c":1,"v":-0.5,"i":2,"x":-0.42,"y":0.62},{"c":1,"v":-0.5,"i":3,"x":-0.12,"y":0.83},{"c":1,"v":-0.5,"i":4,"x":0.33,"y":0.93},{"c":1,"v":-0.5,"i":5,"x":1.1,"y":0.97},{"c":1,"v":-0.5,"i":6,"x":2.0,"y":0.98},{"c":1,"v":-0.5,"i":7,"x":2.8,"y":0.98},{"c":1,"v":-0.5,"i":8,"x":3.12,"y":0.96},{"c":1,"v":-0.5,"i":9,"x":3.22,"y":0.85},{"c":1,"v":-0.5,"i":10,"x":3.15,"y":0.7},{"c":1,"v":-0.5,"i":11,"x":2.9,"y":0.5},{"c":1,"v":-0.5,"i":12,"x":2.5,"y":0.3},{"c":1,"v":-0.5,"i":13,"x":2.0,"y":0.24},{"c":1,"v":-0.5,"i":14,"x":1.3,"y":0.22},{"c":1,"v":-0.5,"i":15,"x":0.8,"y":0.2},{"c":1,"v":-0.5,"i":16,"x":0.4,"y":0.1},{"c":1,"v":-0.5,"i":17,"x":-0.3,"y":0},
{"c":2,"v":-1,"i":0,"x":-0.6,"y":0},{"c":2,"v":-1,"i":1,"x":-0.56,"y":0.28},{"c":2,"v":-1,"i":2,"x":-0.4,"y":0.58},{"c":2,"v":-1,"i":3,"x":-0.1,"y":0.77},{"c":2,"v":-1,"i":4,"x":0.4,"y":0.85},{"c":2,"v":-1,"i":5,"x":1.0,"y":0.86},{"c":2,"v":-1,"i":6,"x":1.6,"y":0.8},{"c":2,"v":-1,"i":7,"x":2.1,"y":0.73},{"c":2,"v":-1,"i":8,"x":2.26,"y":0.64},{"c":2,"v":-1,"i":9,"x":2.15,"y":0.52},{"c":2,"v":-1,"i":10,"x":1.7,"y":0.47},{"c":2,"v":-1,"i":11,"x":1.2,"y":0.48},{"c":2,"v":-1,"i":12,"x":0.8,"y":0.45},{"c":2,"v":-1,"i":13,"x":0.45,"y":0.3},{"c":2,"v":-1,"i":14,"x":-0.3,"y":0},
{"c":3,"v":-1.5,"i":0,"x":-0.59,"y":0},{"c":3,"v":-1.5,"i":1,"x":-0.55,"y":0.28},{"c":3,"v":-1.5,"i":2,"x":-0.38,"y":0.56},{"c":3,"v":-1.5,"i":3,"x":-0.08,"y":0.73},{"c":3,"v":-1.5,"i":4,"x":0.4,"y":0.8},{"c":3,"v":-1.5,"i":5,"x":0.9,"y":0.78},{"c":3,"v":-1.5,"i":6,"x":1.35,"y":0.7},{"c":3,"v":-1.5,"i":7,"x":1.62,"y":0.62},{"c":3,"v":-1.5,"i":8,"x":1.35,"y":0.56},{"c":3,"v":-1.5,"i":9,"x":0.9,"y":0.54},{"c":3,"v":-1.5,"i":10,"x":0.5,"y":0.45},{"c":3,"v":-1.5,"i":11,"x":-0.3,"y":0},
{"c":4,"v":-2,"i":0,"x":-0.58,"y":0},{"c":4,"v":-2,"i":1,"x":-0.54,"y":0.28},{"c":4,"v":-2,"i":2,"x":-0.37,"y":0.54},{"c":4,"v":-2,"i":3,"x":-0.07,"y":0.7},{"c":4,"v":-2,"i":4,"x":0.35,"y":0.75},{"c":4,"v":-2,"i":5,"x":0.8,"y":0.72},{"c":4,"v":-2,"i":6,"x":1.16,"y":0.66},{"c":4,"v":-2,"i":7,"x":0.85,"y":0.6},{"c":4,"v":-2,"i":8,"x":0.5,"y":0.55},{"c":4,"v":-2,"i":9,"x":-0.3,"y":0},
{"c":5,"v":-2.5,"i":0,"x":-0.57,"y":0},{"c":5,"v":-2.5,"i":1,"x":-0.53,"y":0.28},{"c":5,"v":-2.5,"i":2,"x":-0.36,"y":0.52},{"c":5,"v":-2.5,"i":3,"x":-0.06,"y":0.67},{"c":5,"v":-2.5,"i":4,"x":0.3,"y":0.7},{"c":5,"v":-2.5,"i":5,"x":0.6,"y":0.67},{"c":5,"v":-2.5,"i":6,"x":0.82,"y":0.63},{"c":5,"v":-2.5,"i":7,"x":0.6,"y":0.6},{"c":5,"v":-2.5,"i":8,"x":0.35,"y":0.57},{"c":5,"v":-2.5,"i":9,"x":-0.3,"y":0},
{"c":6,"v":-3,"i":0,"x":-0.565,"y":0.02},{"c":6,"v":-3,"i":1,"x":-0.52,"y":0.28},{"c":6,"v":-3,"i":2,"x":-0.35,"y":0.5},{"c":6,"v":-3,"i":3,"x":-0.06,"y":0.64},{"c":6,"v":-3,"i":4,"x":0.25,"y":0.66},{"c":6,"v":-3,"i":5,"x":0.46,"y":0.61},{"c":6,"v":-3,"i":6,"x":0.3,"y":0.59},{"c":6,"v":-3,"i":7,"x":-0.3,"y":0},
{"c":7,"v":-4,"i":0,"x":-0.56,"y":0.04},{"c":7,"v":-4,"i":1,"x":-0.51,"y":0.28},{"c":7,"v":-4,"i":2,"x":-0.34,"y":0.49},{"c":7,"v":-4,"i":3,"x":-0.06,"y":0.62},{"c":7,"v":-4,"i":4,"x":0.2,"y":0.63},{"c":7,"v":-4,"i":5,"x":0.3,"y":0.6},{"c":7,"v":-4,"i":6,"x":0.1,"y":0.58},{"c":7,"v":-4,"i":7,"x":-0.3,"y":0},
{"c":8,"v":-5,"i":0,"x":-0.555,"y":0.06},{"c":8,"v":-5,"i":1,"x":-0.5,"y":0.29},{"c":8,"v":-5,"i":2,"x":-0.33,"y":0.48},{"c":8,"v":-5,"i":3,"x":-0.06,"y":0.6},{"c":8,"v":-5,"i":4,"x":0.15,"y":0.61},{"c":8,"v":-5,"i":5,"x":0.1,"y":0.58},{"c":8,"v":-5,"i":6,"x":-0.3,"y":0},
{"c":9,"v":-6,"i":0,"x":-0.55,"y":0.08},{"c":9,"v":-6,"i":1,"x":-0.49,"y":0.3},{"c":9,"v":-6,"i":2,"x":-0.32,"y":0.47},{"c":9,"v":-6,"i":3,"x":-0.06,"y":0.59},{"c":9,"v":-6,"i":4,"x":0.1,"y":0.595},{"c":9,"v":-6,"i":5,"x":0,"y":0.56},{"c":9,"v":-6,"i":6,"x":-0.3,"y":0},
{"c":11,"v":0.5,"i":0,"x":-0.62,"y":0},{"c":11,"v":0.5,"i":1,"x":-0.58,"y":-0.28},{"c":11,"v":0.5,"i":2,"x":-0.42,"y":-0.62},{"c":11,"v":0.5,"i":3,"x":-0.12,"y":-0.83},{"c":11,"v":0.5,"i":4,"x":0.33,"y":-0.93},{"c":11,"v":0.5,"i":5,"x":1.1,"y":-0.97},{"c":11,"v":0.5,"i":6,"x":2.0,"y":-0.98},{"c":11,"v":0.5,"i":7,"x":2.8,"y":-0.98},{"c":11,"v":0.5,"i":8,"x":3.12,"y":-0.96},{"c":11,"v":0.5,"i":9,"x":3.22,"y":-0.85},{"c":11,"v":0.5,"i":10,"x":3.15,"y":-0.7},{"c":11,"v":0.5,"i":11,"x":2.9,"y":-0.5},{"c":11,"v":0.5,"i":12,"x":2.5,"y":-0.3},{"c":11,"v":0.5,"i":13,"x":2.0,"y":-0.24},{"c":11,"v":0.5,"i":14,"x":1.3,"y":-0.22},{"c":11,"v":0.5,"i":15,"x":0.8,"y":-0.2},{"c":11,"v":0.5,"i":16,"x":0.4,"y":-0.1},{"c":11,"v":0.5,"i":17,"x":-0.3,"y":0},
{"c":12,"v":1,"i":0,"x":-0.6,"y":0},{"c":12,"v":1,"i":1,"x":-0.56,"y":-0.28},{"c":12,"v":1,"i":2,"x":-0.4,"y":-0.58},{"c":12,"v":1,"i":3,"x":-0.1,"y":-0.77},{"c":12,"v":1,"i":4,"x":0.4,"y":-0.85},{"c":12,"v":1,"i":5,"x":1.0,"y":-0.86},{"c":12,"v":1,"i":6,"x":1.6,"y":-0.8},{"c":12,"v":1,"i":7,"x":2.1,"y":-0.73},{"c":12,"v":1,"i":8,"x":2.26,"y":-0.64},{"c":12,"v":1,"i":9,"x":2.15,"y":-0.52},{"c":12,"v":1,"i":10,"x":1.7,"y":-0.47},{"c":12,"v":1,"i":11,"x":1.2,"y":-0.48},{"c":12,"v":1,"i":12,"x":0.8,"y":-0.45},{"c":12,"v":1,"i":13,"x":0.45,"y":-0.3},{"c":12,"v":1,"i":14,"x":-0.3,"y":0},
{"c":13,"v":1.5,"i":0,"x":-0.59,"y":0},{"c":13,"v":1.5,"i":1,"x":-0.55,"y":-0.28},{"c":13,"v":1.5,"i":2,"x":-0.38,"y":-0.56},{"c":13,"v":1.5,"i":3,"x":-0.08,"y":-0.73},{"c":13,"v":1.5,"i":4,"x":0.4,"y":-0.8},{"c":13,"v":1.5,"i":5,"x":0.9,"y":-0.78},{"c":13,"v":1.5,"i":6,"x":1.35,"y":-0.7},{"c":13,"v":1.5,"i":7,"x":1.62,"y":-0.62},{"c":13,"v":1.5,"i":8,"x":1.35,"y":-0.56},{"c":13,"v":1.5,"i":9,"x":0.9,"y":-0.54},{"c":13,"v":1.5,"i":10,"x":0.5,"y":-0.45},{"c":13,"v":1.5,"i":11,"x":-0.3,"y":0},
{"c":14,"v":2,"i":0,"x":-0.58,"y":0},{"c":14,"v":2,"i":1,"x":-0.54,"y":-0.28},{"c":14,"v":2,"i":2,"x":-0.37,"y":-0.54},{"c":14,"v":2,"i":3,"x":-0.07,"y":-0.7},{"c":14,"v":2,"i":4,"x":0.35,"y":-0.75},{"c":14,"v":2,"i":5,"x":0.8,"y":-0.72},{"c":14,"v":2,"i":6,"x":1.16,"y":-0.66},{"c":14,"v":2,"i":7,"x":0.85,"y":-0.6},{"c":14,"v":2,"i":8,"x":0.5,"y":-0.55},{"c":14,"v":2,"i":9,"x":-0.3,"y":0},
{"c":15,"v":2.5,"i":0,"x":-0.57,"y":0},{"c":15,"v":2.5,"i":1,"x":-0.53,"y":-0.28},{"c":15,"v":2.5,"i":2,"x":-0.36,"y":-0.52},{"c":15,"v":2.5,"i":3,"x":-0.06,"y":-0.67},{"c":15,"v":2.5,"i":4,"x":0.3,"y":-0.7},{"c":15,"v":2.5,"i":5,"x":0.6,"y":-0.67},{"c":15,"v":2.5,"i":6,"x":0.82,"y":-0.63},{"c":15,"v":2.5,"i":7,"x":0.6,"y":-0.6},{"c":15,"v":2.5,"i":8,"x":0.35,"y":-0.57},{"c":15,"v":2.5,"i":9,"x":-0.3,"y":0},
{"c":16,"v":3,"i":0,"x":-0.565,"y":-0.02},{"c":16,"v":3,"i":1,"x":-0.52,"y":-0.28},{"c":16,"v":3,"i":2,"x":-0.35,"y":-0.5},{"c":16,"v":3,"i":3,"x":-0.06,"y":-0.64},{"c":16,"v":3,"i":4,"x":0.25,"y":-0.66},{"c":16,"v":3,"i":5,"x":0.46,"y":-0.61},{"c":16,"v":3,"i":6,"x":0.3,"y":-0.59},{"c":16,"v":3,"i":7,"x":-0.3,"y":0},
{"c":17,"v":4,"i":0,"x":-0.56,"y":-0.04},{"c":17,"v":4,"i":1,"x":-0.51,"y":-0.28},{"c":17,"v":4,"i":2,"x":-0.34,"y":-0.49},{"c":17,"v":4,"i":3,"x":-0.06,"y":-0.62},{"c":17,"v":4,"i":4,"x":0.2,"y":-0.63},{"c":17,"v":4,"i":5,"x":0.3,"y":-0.6},{"c":17,"v":4,"i":6,"x":0.1,"y":-0.58},{"c":17,"v":4,"i":7,"x":-0.3,"y":0},
{"c":18,"v":5,"i":0,"x":-0.555,"y":-0.06},{"c":18,"v":5,"i":1,"x":-0.5,"y":-0.29},{"c":18,"v":5,"i":2,"x":-0.33,"y":-0.48},{"c":18,"v":5,"i":3,"x":-0.06,"y":-0.6},{"c":18,"v":5,"i":4,"x":0.15,"y":-0.61},{"c":18,"v":5,"i":5,"x":0.1,"y":-0.58},{"c":18,"v":5,"i":6,"x":-0.3,"y":0},
{"c":19,"v":6,"i":0,"x":-0.55,"y":-0.08},{"c":19,"v":6,"i":1,"x":-0.49,"y":-0.3},{"c":19,"v":6,"i":2,"x":-0.32,"y":-0.47},{"c":19,"v":6,"i":3,"x":-0.06,"y":-0.59},{"c":19,"v":6,"i":4,"x":0.1,"y":-0.595},{"c":19,"v":6,"i":5,"x":0,"y":-0.56},{"c":19,"v":6,"i":6,"x":-0.3,"y":0}
]
},
"columns": 2,
"spacing": {"row": 29, "column": 91},
"bounds": "flush",
"resolve": {"scale": {"color": "independent", "x": "independent", "y": "independent"}},
"concat": [
{
 "width": 421, "height": 280,
 "layer": [
  {"data": {"name": "A"}, "mark": {"type": "line", "interpolate": "cardinal-closed", "strokeWidth": 1.8},
   "encoding": {
    "x": {"field": "x", "type": "quantitative", "scale": {"domain": [-1, 6.5], "nice": false, "zero": false}, "axis": {"values": [0, 2, 4, 6], "labels": false, "title": null}},
    "y": {"field": "y", "type": "quantitative", "scale": {"domain": [-2.5, 2.5], "nice": false, "zero": false}, "axis": {"values": [-2, -1, 0, 1, 2], "title": "y/d", "labelExpr": "''+datum.value"}},
    "color": {"field": "v", "type": "quantitative", "scale": {"domain": [-0.35, 0, 0.35], "range": ["#0000ff", "#ffffff", "#ff0000"], "interpolate": "rgb"}, "legend": {"title": null, "values": [-0.3, -0.2, -0.1, 0, 0.1, 0.2, 0.3], "labelExpr": "''+datum.value"}},
    "detail": {"field": "c"}, "order": {"field": "i"}}},
  {"data": {"values": [{"x": 0, "y": 0}]}, "mark": {"type": "point", "shape": "circle", "filled": true, "size": 3200, "color": "#000", "opacity": 1, "strokeWidth": 0},
   "encoding": {"x": {"field": "x", "type": "quantitative", "axis": {"orient": "top", "values": [0, 2, 4, 6], "labels": false, "title": null}}, "y": {"field": "y", "type": "quantitative", "axis": {"orient": "right", "values": [-2, -1, 0, 1, 2], "labels": false, "title": null}}}},
  {"data": {"name": "L"}, "transform": [{"filter": "datum.p=='a' && datum.k=='m'"}], "mark": {"type": "text", "style": "tm"}, "encoding": {"x": {"field": "x", "type": "quantitative", "axis": null}, "y": {"field": "y", "type": "quantitative", "axis": null}, "text": {"field": "t"}}},
  {"data": {"name": "L"}, "transform": [{"filter": "datum.p=='a' && datum.k=='w'"}], "mark": {"type": "text", "style": "tw"}, "encoding": {"x": {"field": "x", "type": "quantitative", "axis": null}, "y": {"field": "y", "type": "quantitative", "axis": null}, "text": {"field": "t"}}},
  {"data": {"name": "L"}, "transform": [{"filter": "datum.p=='a' && datum.k=='l'"}], "mark": {"type": "text", "style": "tl"}, "encoding": {"x": {"field": "x", "type": "quantitative", "axis": null}, "y": {"field": "y", "type": "quantitative", "axis": null}, "text": {"field": "t"}}},
  {"data": {"name": "L"}, "transform": [{"filter": "datum.p=='a' && datum.k=='c'"}], "mark": {"type": "text", "style": "tc"}, "encoding": {"x": {"field": "x", "type": "quantitative", "axis": null}, "y": {"field": "y", "type": "quantitative", "axis": null}, "text": {"field": "t"}}},
  {"data": {"name": "L"}, "transform": [{"filter": "datum.p=='a' && datum.k=='s'"}], "mark": {"type": "text", "style": "ts"}, "encoding": {"x": {"field": "x", "type": "quantitative", "axis": null}, "y": {"field": "y", "type": "quantitative", "axis": null}, "text": {"field": "t"}}},
  {"data": {"name": "L"}, "transform": [{"filter": "datum.p=='a' && datum.k=='d'"}], "mark": {"type": "text", "style": "td"}, "encoding": {"x": {"field": "x", "type": "quantitative", "axis": null}, "y": {"field": "y", "type": "quantitative", "axis": null}, "text": {"field": "t"}}}
 ],
 "resolve": {"axis": {"x": "independent", "y": "independent"}}
},
{
 "width": 421, "height": 280,
 "layer": [
  {"data": {"name": "B"}, "mark": {"type": "line", "interpolate": "cardinal-closed", "strokeWidth": 1.8},
   "encoding": {
    "x": {"field": "x", "type": "quantitative", "scale": {"domain": [-1, 6.5], "nice": false, "zero": false}, "axis": {"values": [0, 2, 4, 6], "labels": false, "title": null}},
    "y": {"field": "y", "type": "quantitative", "scale": {"domain": [-2.5, 2.5], "nice": false, "zero": false}, "axis": {"values": [-2, -1, 0, 1, 2], "labels": false, "title": null}},
    "color": {"field": "v", "type": "quantitative", "scale": {"domain": [-0.35, 0, 0.35], "range": ["#0000ff", "#ffffff", "#ff0000"], "interpolate": "rgb"}, "legend": {"title": null, "values": [-0.3, -0.2, -0.1, 0, 0.1, 0.2, 0.3], "labelExpr": "''+datum.value"}},
    "detail": {"field": "c"}, "order": {"field": "i"}}},
  {"data": {"values": [{"x": 0, "y": 0}]}, "mark": {"type": "point", "shape": "circle", "filled": true, "size": 3200, "color": "#000", "opacity": 1, "strokeWidth": 0},
   "encoding": {"x": {"field": "x", "type": "quantitative", "axis": {"orient": "top", "values": [0, 2, 4, 6], "labels": false, "title": null}}, "y": {"field": "y", "type": "quantitative", "axis": {"orient": "right", "values": [-2, -1, 0, 1, 2], "labels": false, "title": null}}}},
  {"data": {"name": "L"}, "transform": [{"filter": "datum.p=='b' && datum.k=='m'"}], "mark": {"type": "text", "style": "tm"}, "encoding": {"x": {"field": "x", "type": "quantitative", "axis": null}, "y": {"field": "y", "type": "quantitative", "axis": null}, "text": {"field": "t"}}},
  {"data": {"name": "L"}, "transform": [{"filter": "datum.p=='b' && datum.k=='w'"}], "mark": {"type": "text", "style": "tw"}, "encoding": {"x": {"field": "x", "type": "quantitative", "axis": null}, "y": {"field": "y", "type": "quantitative", "axis": null}, "text": {"field": "t"}}},
  {"data": {"name": "L"}, "transform": [{"filter": "datum.p=='b' && datum.k=='l'"}], "mark": {"type": "text", "style": "tl"}, "encoding": {"x": {"field": "x", "type": "quantitative", "axis": null}, "y": {"field": "y", "type": "quantitative", "axis": null}, "text": {"field": "t"}}},
  {"data": {"name": "L"}, "transform": [{"filter": "datum.p=='b' && datum.k=='c'"}], "mark": {"type": "text", "style": "tc"}, "encoding": {"x": {"field": "x", "type": "quantitative", "axis": null}, "y": {"field": "y", "type": "quantitative", "axis": null}, "text": {"field": "t"}}},
  {"data": {"name": "L"}, "transform": [{"filter": "datum.p=='b' && datum.k=='s'"}], "mark": {"type": "text", "style": "ts"}, "encoding": {"x": {"field": "x", "type": "quantitative", "axis": null}, "y": {"field": "y", "type": "quantitative", "axis": null}, "text": {"field": "t"}}},
  {"data": {"name": "L"}, "transform": [{"filter": "datum.p=='b' && datum.k=='d'"}], "mark": {"type": "text", "style": "td"}, "encoding": {"x": {"field": "x", "type": "quantitative", "axis": null}, "y": {"field": "y", "type": "quantitative", "axis": null}, "text": {"field": "t"}}}
 ],
 "resolve": {"axis": {"x": "independent", "y": "independent"}}
},
{
 "width": 421, "height": 280,
 "layer": [
  {"data": {"name": "C"}, "mark": {"type": "line", "interpolate": "cardinal-closed", "strokeWidth": 1.8},
   "encoding": {
    "x": {"field": "x", "type": "quantitative", "scale": {"domain": [-1, 6.5], "nice": false, "zero": false}, "axis": {"values": [0, 2, 4, 6], "title": "x/d", "labelExpr": "''+datum.value"}},
    "y": {"field": "y", "type": "quantitative", "scale": {"domain": [-2.5, 2.5], "nice": false, "zero": false}, "axis": {"values": [-2, -1, 0, 1, 2], "title": "y/d", "labelExpr": "''+datum.value"}},
    "color": {"field": "v", "type": "quantitative", "scale": {"domain": [-0.35, 0, 0.35], "range": ["#0000ff", "#ffffff", "#ff0000"], "interpolate": "rgb"}, "legend": {"title": null, "values": [-0.3, -0.2, -0.1, 0, 0.1, 0.2, 0.3], "labelExpr": "''+datum.value"}},
    "detail": {"field": "c"}, "order": {"field": "i"}}},
  {"data": {"values": [{"x": 0, "y": 0}]}, "mark": {"type": "point", "shape": "circle", "filled": true, "size": 3200, "color": "#000", "opacity": 1, "strokeWidth": 0},
   "encoding": {"x": {"field": "x", "type": "quantitative", "axis": {"orient": "top", "values": [0, 2, 4, 6], "labels": false, "title": null}}, "y": {"field": "y", "type": "quantitative", "axis": {"orient": "right", "values": [-2, -1, 0, 1, 2], "labels": false, "title": null}}}},
  {"data": {"name": "L"}, "transform": [{"filter": "datum.p=='c' && datum.k=='m'"}], "mark": {"type": "text", "style": "tm"}, "encoding": {"x": {"field": "x", "type": "quantitative", "axis": null}, "y": {"field": "y", "type": "quantitative", "axis": null}, "text": {"field": "t"}}},
  {"data": {"name": "L"}, "transform": [{"filter": "datum.p=='c' && datum.k=='w'"}], "mark": {"type": "text", "style": "tw"}, "encoding": {"x": {"field": "x", "type": "quantitative", "axis": null}, "y": {"field": "y", "type": "quantitative", "axis": null}, "text": {"field": "t"}}},
  {"data": {"name": "L"}, "transform": [{"filter": "datum.p=='c' && datum.k=='l'"}], "mark": {"type": "text", "style": "tl"}, "encoding": {"x": {"field": "x", "type": "quantitative", "axis": null}, "y": {"field": "y", "type": "quantitative", "axis": null}, "text": {"field": "t"}}},
  {"data": {"name": "L"}, "transform": [{"filter": "datum.p=='c' && datum.k=='c'"}], "mark": {"type": "text", "style": "tc"}, "encoding": {"x": {"field": "x", "type": "quantitative", "axis": null}, "y": {"field": "y", "type": "quantitative", "axis": null}, "text": {"field": "t"}}},
  {"data": {"name": "L"}, "transform": [{"filter": "datum.p=='c' && datum.k=='s'"}], "mark": {"type": "text", "style": "ts"}, "encoding": {"x": {"field": "x", "type": "quantitative", "axis": null}, "y": {"field": "y", "type": "quantitative", "axis": null}, "text": {"field": "t"}}},
  {"data": {"name": "L"}, "transform": [{"filter": "datum.p=='c' && datum.k=='d'"}], "mark": {"type": "text", "style": "td"}, "encoding": {"x": {"field": "x", "type": "quantitative", "axis": null}, "y": {"field": "y", "type": "quantitative", "axis": null}, "text": {"field": "t"}}}
 ],
 "resolve": {"axis": {"x": "independent", "y": "independent"}}
},
{
 "width": 421, "height": 280,
 "layer": [
  {"data": {"name": "D"}, "mark": {"type": "line", "interpolate": "cardinal-closed", "strokeWidth": 1.8},
   "encoding": {
    "x": {"field": "x", "type": "quantitative", "scale": {"domain": [-1, 6.5], "nice": false, "zero": false}, "axis": {"values": [0, 2, 4, 6], "title": "x/d", "labelExpr": "''+datum.value"}},
    "y": {"field": "y", "type": "quantitative", "scale": {"domain": [-2.5, 2.5], "nice": false, "zero": false}, "axis": {"values": [-2, -1, 0, 1, 2], "labels": false, "title": null}},
    "color": {"field": "v", "type": "quantitative", "scale": {"domain": [-6, 0, 6], "range": ["#0000ff", "#ffffff", "#ff0000"], "interpolate": "rgb"}, "legend": {"title": null, "values": [-6, -4, -2, 0, 2, 4, 6], "labelExpr": "''+datum.value"}},
    "detail": {"field": "c"}, "order": {"field": "i"}}},
  {"data": {"values": [{"x": 0, "y": 0}]}, "mark": {"type": "point", "shape": "circle", "filled": true, "size": 3200, "color": "#000", "opacity": 1, "strokeWidth": 0},
   "encoding": {"x": {"field": "x", "type": "quantitative", "axis": {"orient": "top", "values": [0, 2, 4, 6], "labels": false, "title": null}}, "y": {"field": "y", "type": "quantitative", "axis": {"orient": "right", "values": [-2, -1, 0, 1, 2], "labels": false, "title": null}}}},
  {"data": {"name": "L"}, "transform": [{"filter": "datum.p=='d' && datum.k=='m'"}], "mark": {"type": "text", "style": "tm"}, "encoding": {"x": {"field": "x", "type": "quantitative", "axis": null}, "y": {"field": "y", "type": "quantitative", "axis": null}, "text": {"field": "t"}}},
  {"data": {"name": "L"}, "transform": [{"filter": "datum.p=='d' && datum.k=='w'"}], "mark": {"type": "text", "style": "tw"}, "encoding": {"x": {"field": "x", "type": "quantitative", "axis": null}, "y": {"field": "y", "type": "quantitative", "axis": null}, "text": {"field": "t"}}},
  {"data": {"name": "L"}, "transform": [{"filter": "datum.p=='d' && datum.k=='l'"}], "mark": {"type": "text", "style": "tl"}, "encoding": {"x": {"field": "x", "type": "quantitative", "axis": null}, "y": {"field": "y", "type": "quantitative", "axis": null}, "text": {"field": "t"}}},
  {"data": {"name": "L"}, "transform": [{"filter": "datum.p=='d' && datum.k=='c'"}], "mark": {"type": "text", "style": "tc"}, "encoding": {"x": {"field": "x", "type": "quantitative", "axis": null}, "y": {"field": "y", "type": "quantitative", "axis": null}, "text": {"field": "t"}}},
  {"data": {"name": "L"}, "transform": [{"filter": "datum.p=='d' && datum.k=='s'"}], "mark": {"type": "text", "style": "ts"}, "encoding": {"x": {"field": "x", "type": "quantitative", "axis": null}, "y": {"field": "y", "type": "quantitative", "axis": null}, "text": {"field": "t"}}},
  {"data": {"name": "L"}, "transform": [{"filter": "datum.p=='d' && datum.k=='d'"}], "mark": {"type": "text", "style": "td"}, "encoding": {"x": {"field": "x", "type": "quantitative", "axis": null}, "y": {"field": "y", "type": "quantitative", "axis": null}, "text": {"field": "t"}}}
 ],
 "resolve": {"axis": {"x": "independent", "y": "independent"}}
}
]
}
